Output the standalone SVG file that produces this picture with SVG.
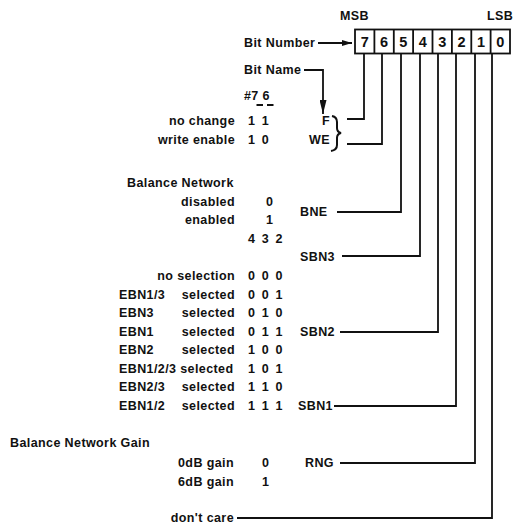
<svg xmlns="http://www.w3.org/2000/svg" width="516" height="524" viewBox="0 0 516 524">
<defs>
<style>
text{font-family:"Liberation Sans",Arial,sans-serif;font-weight:bold;font-size:12.5px;letter-spacing:0.4px;fill:#111}
.r{text-anchor:end}
.d{word-spacing:2.5px}
.box{font-size:14.5px;text-anchor:middle;letter-spacing:0}
.ln{fill:none;stroke:#111;stroke-width:1.8}
</style>
<marker id="ah" viewBox="0 0 10 6" refX="10" refY="3" markerWidth="10" markerHeight="6" markerUnits="userSpaceOnUse" orient="auto"><path d="M0,0 L10,3 L0,6 Z" fill="#111"/></marker>
<marker id="ahd" viewBox="0 0 14 7" refX="14" refY="3.5" markerWidth="14" markerHeight="7" markerUnits="userSpaceOnUse" orient="auto"><path d="M0,0 L14,3.5 L0,7 Z" fill="#111"/></marker>
</defs>
<rect width="516" height="524" fill="#fff"/>

<g id="header">
<text x="340" y="20">MSB</text>
<text x="487" y="20">LSB</text>
<text x="244" y="46.5">Bit Number</text>
<text x="244" y="73.5">Bit Name</text>
</g>

<g id="register">
<rect x="355" y="29.5" width="155" height="24" fill="none" stroke="#111" stroke-width="1.8"/>
<path class="ln" d="M374.4,29.5V53.5M393.8,29.5V53.5M413.1,29.5V53.5M432.5,29.5V53.5M451.9,29.5V53.5M471.3,29.5V53.5M490.6,29.5V53.5"/>
<text class="box" x="364.7" y="47">7</text>
<text class="box" x="384.1" y="47">6</text>
<text class="box" x="403.4" y="47">5</text>
<text class="box" x="422.8" y="47">4</text>
<text class="box" x="442.2" y="47">3</text>
<text class="box" x="461.6" y="47">2</text>
<text class="box" x="481" y="47">1</text>
<text class="box" x="500.3" y="47">0</text>
</g>

<g id="bits76">
<text x="244" y="99.5">#7 6</text>
<path class="ln" d="M256.5,105H263M267,105H273.5" stroke-width="1.5"/>
<text class="r" x="235" y="125">no change</text>
<text class="d" x="248" y="125">1 1</text>
<text class="r" x="330" y="125">F</text>
<text class="r" x="235" y="143.5">write enable</text>
<text class="d" x="248" y="143.5">1 0</text>
<text class="r" x="330" y="143.5">WE</text>
<path d="M332,116 q5,1 5,6 v6 q0,4 4,5 q-4,1 -4,5 v7 q0,5 -6,6" fill="none" stroke="#111" stroke-width="2"/>
</g>

<g id="bne">
<text x="127" y="187">Balance Network</text>
<text class="r" x="235" y="205.5">disabled</text>
<text x="266" y="205.5">0</text>
<text class="r" x="235" y="224">enabled</text>
<text x="266" y="224">1</text>
<text x="300" y="216">BNE</text>
</g>

<g id="sbn">
<text class="d" x="248" y="243">4 3 2</text>
<text x="300" y="260.5">SBN3</text>
<text class="r" x="235" y="279.5">no selection</text>
<text class="d" x="248" y="279.5">0 0 0</text>
<text x="119" y="298.5">EBN1/3</text><text class="r" x="235" y="298.5">selected</text><text class="d" x="248" y="298.5">0 0 1</text>
<text x="119" y="317">EBN3</text><text class="r" x="235" y="317">selected</text><text class="d" x="248" y="317">0 1 0</text>
<text x="119" y="335.5">EBN1</text><text class="r" x="235" y="335.5">selected</text><text class="d" x="248" y="335.5">0 1 1</text>
<text x="300" y="335.5">SBN2</text>
<text x="119" y="354">EBN2</text><text class="r" x="235" y="354">selected</text><text class="d" x="248" y="354">1 0 0</text>
<text x="119" y="372.5">EBN1/2/3 selected</text><text class="d" x="248" y="372.5">1 0 1</text>
<text x="119" y="391">EBN2/3</text><text class="r" x="235" y="391">selected</text><text class="d" x="248" y="391">1 1 0</text>
<text x="119" y="409.5">EBN1/2</text><text class="r" x="235" y="409.5">selected</text><text class="d" x="248" y="409.5">1 1 1</text>
<text x="298" y="409.5">SBN1</text>
</g>

<g id="rng">
<text x="10" y="447">Balance Network Gain</text>
<text class="r" x="234" y="467">0dB gain</text>
<text x="262" y="467">0</text>
<text x="305" y="467">RNG</text>
<text class="r" x="234" y="486">6dB gain</text>
<text x="262" y="486">1</text>
</g>

<g id="dontcare">
<text class="r" x="234" y="521.5">don't care</text>
</g>

<g id="connectors">
<line class="ln" x1="318" y1="43" x2="352" y2="43" marker-end="url(#ah)"/>
<polyline class="ln" points="304,70 323,70 323,114" marker-end="url(#ahd)"/>
<polyline class="ln" points="364,53.5 364,119 347,119"/>
<polyline class="ln" points="382,53.5 382,144 347,144"/>
<polyline class="ln" points="401,53.5 401,212 337,212"/>
<polyline class="ln" points="420,53.5 420,256 342,256"/>
<polyline class="ln" points="438,53.5 438,332 340,332"/>
<polyline class="ln" points="456,53.5 456,406 334,406"/>
<polyline class="ln" points="475,53.5 475,463 340,463"/>
<polyline class="ln" points="492,53.5 492,518 237,518"/>
</g>
</svg>
